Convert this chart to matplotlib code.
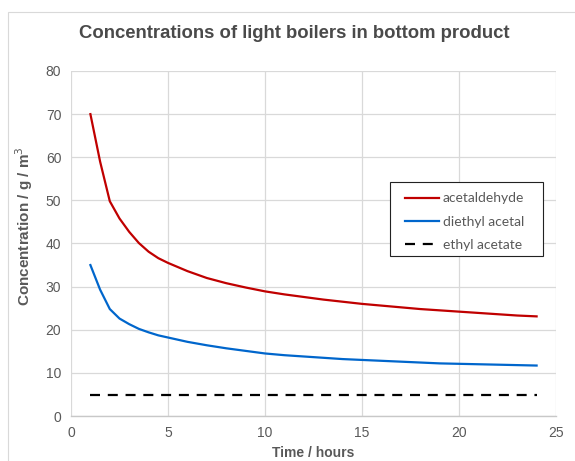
import numpy as np
import matplotlib
matplotlib.use('Agg')
import matplotlib.pyplot as plt
from matplotlib.patches import Rectangle

# values (denser where the curves bend)
hours = [1, 1.5, 2, 2.5, 3, 3.5, 4, 4.5, 5, 6, 7, 8, 9, 10, 11, 12,
         13, 14, 15, 16, 17, 18, 19, 20, 21, 22, 23, 24]
acetaldehyde = [70, 59.0, 49.8, 45.8, 42.7, 40.1, 38.1, 36.6, 35.5, 33.6, 32.0, 30.8, 29.8, 28.9,
                28.2, 27.6, 27.0, 26.5, 26.0, 25.6, 25.2, 24.8, 24.5, 24.2, 23.9, 23.6, 23.3, 23.1]
diethyl_acetal = [35, 29.3, 24.8, 22.6, 21.3, 20.2, 19.4, 18.7, 18.2, 17.2, 16.4, 15.7, 15.1, 14.5,
                  14.1, 13.8, 13.5, 13.2, 13.0, 12.8, 12.6, 12.4, 12.2, 12.1, 12.0, 11.9, 11.8, 11.7]
ethyl_acetate = [4.8] * len(hours)

plt.rcParams['font.family'] = ['Liberation Sans', 'DejaVu Sans']
txt = '#595959'
grid = '#d9d9d9'

fig = plt.figure(figsize=(5.75, 4.61), dpi=100)
# outer chart border (light gray)
fig.patches.append(Rectangle((8 / 575, -0.1), 1.2, 1 - 12 / 461 + 0.1, transform=fig.transFigure,
                             fill=False, edgecolor='#d9d9d9', linewidth=0.8))

ax = fig.add_axes([71 / 575, 45 / 461, 485 / 575, 345 / 461])
ax.plot(hours, acetaldehyde, color='#c00000', lw=1.6, label='acetaldehyde')
ax.plot(hours, diethyl_acetal, color='#0066cc', lw=1.6, label='diethyl acetal')
ax.plot(hours, ethyl_acetate, color='black', lw=1.6, dashes=(4.5, 3.5), label='ethyl acetate')

ax.set_xlim(0, 25)
ax.set_ylim(0, 80)
ax.set_xticks(range(0, 26, 5))
ax.set_yticks(range(0, 81, 10))
ax.grid(True, color=grid, lw=0.9)
ax.set_axisbelow(True)
for s in ['top', 'right', 'left']:
    ax.spines[s].set_visible(False)
ax.spines['bottom'].set_color('#c8c8c8')
ax.spines['bottom'].set_linewidth(1.0)
ax.tick_params(length=0, colors=txt, labelsize=10, pad=7)

ax.set_xlabel('Time / hours', fontsize=10, fontweight='bold', color=txt, va='center')
ax.xaxis.set_label_coords(0.5, -0.107)
ax.set_ylabel('Concentration / g / m$^3$', fontsize=11, fontweight='bold', color=txt, va='center')
ax.yaxis.set_label_coords(-0.097, 0.551)
fig.text(294 / 575, 1 - 34 / 461, 'Concentrations of light boilers in bottom product',
         ha='center', va='center', fontsize=13.3, fontweight='bold', color='#4a4a4a')

# legend box drawn separately so its padding matches the reference
ax.add_patch(Rectangle((0.658, 0.464), 0.315, 0.214, transform=ax.transAxes, fill=True,
                       facecolor='white', edgecolor='#222222', lw=0.8, zorder=4))
leg = ax.legend(loc='upper left', bbox_to_anchor=(0.688, 0.648), frameon=False,
                fontsize=10, handlelength=2.5, handletextpad=0.25,
                borderpad=0, labelspacing=0.8, borderaxespad=0)
leg.set_zorder(5)
for t in leg.get_texts():
    t.set_color(txt)
    t.set_family(['Lato', 'DejaVu Sans'])

fig.savefig('out.png', dpi=100)
